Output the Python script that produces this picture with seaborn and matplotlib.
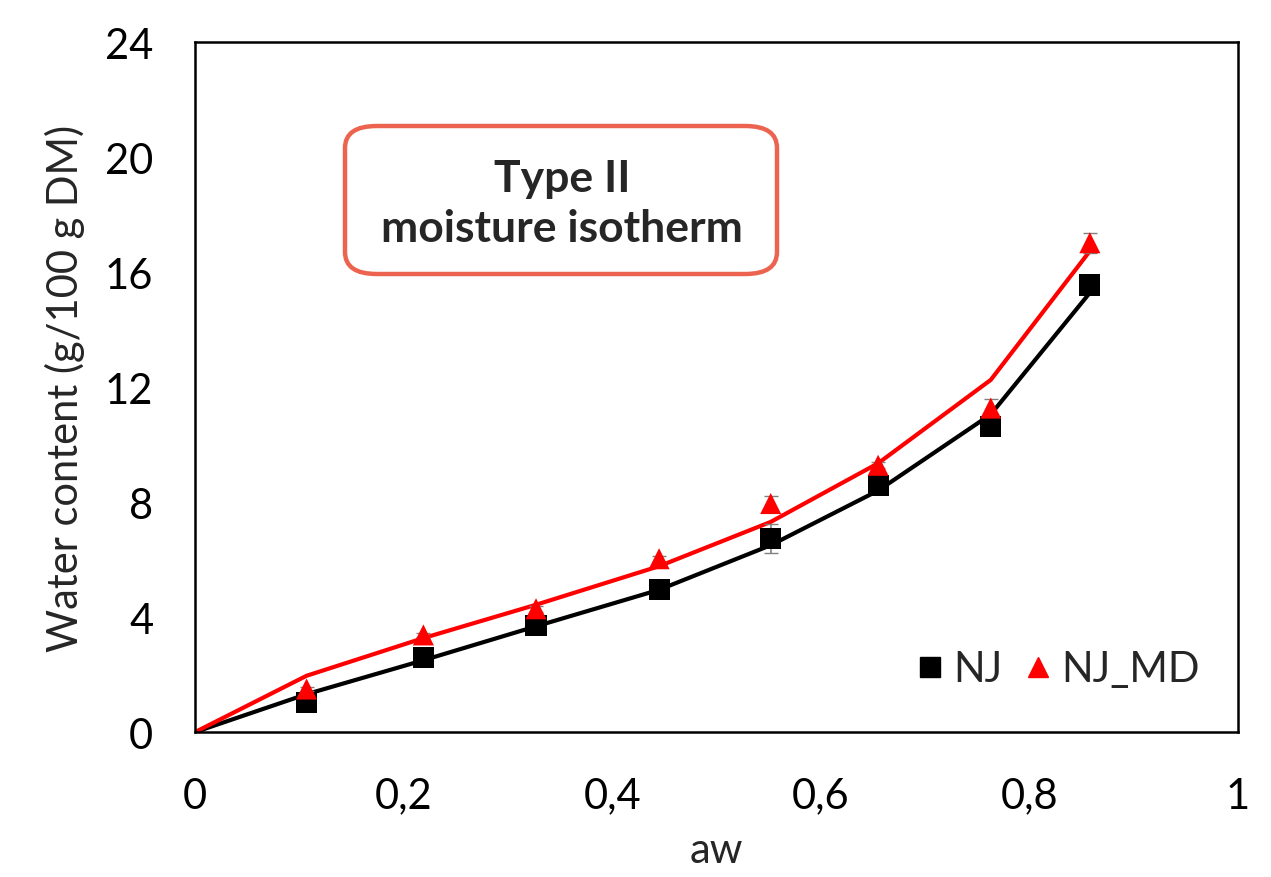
import matplotlib
matplotlib.use("Agg")
import matplotlib.pyplot as plt
from matplotlib.patches import FancyBboxPatch
from matplotlib.lines import Line2D
import seaborn as sns
import pandas as pd
import numpy as np

# Data
aw = [0.107, 0.219, 0.327, 0.445, 0.552, 0.655, 0.763, 0.858]
nj = [1.02, 2.60, 3.70, 4.95, 6.73, 8.58, 10.64, 15.55]
nj_err = [0.05, 0.08, 0.08, 0.1, 0.5, 0.1, 0.2, 0.15]
nj_md = [1.50, 3.38, 4.29, 6.03, 7.95, 9.28, 11.27, 17.02]
nj_md_err = [0.08, 0.08, 0.1, 0.1, 0.26, 0.1, 0.3, 0.35]

fit_aw = [0.0, 0.107, 0.219, 0.327, 0.445, 0.552, 0.655, 0.763, 0.858]
fit_nj = [0.0, 1.32, 2.50, 3.68, 4.95, 6.50, 8.40, 11.05, 15.28]
fit_nj_md = [0.0, 1.96, 3.27, 4.43, 5.77, 7.31, 9.35, 12.25, 16.73]

xticks = [0, 0.2, 0.4, 0.6, 0.8, 1]
xticklabels = ["0", "0,2", "0,4", "0,6", "0,8", "1"]
yticks = [0, 4, 8, 12, 16, 20, 24]

sns.set_style("white")
plt.rcParams['font.family'] = ['Lato', 'DejaVu Sans']

fig = plt.figure(figsize=(12.71, 8.78), dpi=100)
ax = fig.add_axes([0.1534, 0.165, 0.8206, 0.786])

pts = pd.DataFrame({
    "aw": aw * 2,
    "val": nj + nj_md,
    "series": ["NJ"] * len(aw) + ["NJ_MD"] * len(aw),
})
fits = pd.DataFrame({
    "aw": fit_aw * 2,
    "val": fit_nj + fit_nj_md,
    "series": ["NJ"] * len(fit_aw) + ["NJ_MD"] * len(fit_aw),
})
palette = {"NJ": "black", "NJ_MD": "#ff0000"}

sns.lineplot(data=fits, x="aw", y="val", hue="series", palette=palette,
             linewidth=3, ax=ax, legend=False, sort=False, zorder=2)

ax.errorbar(aw, nj, yerr=nj_err, fmt="none", ecolor="#808080", elinewidth=1.2,
            capsize=5, zorder=3)
ax.errorbar(aw, nj_md, yerr=nj_md_err, fmt="none", ecolor="#808080", elinewidth=1.2,
            capsize=5, zorder=3)

sns.scatterplot(data=pts, x="aw", y="val", hue="series", style="series",
                markers={"NJ": "s", "NJ_MD": "^"}, palette=palette,
                s=230, linewidth=0, ax=ax, legend=False, zorder=4)

ax.set_xlim(0, 1)
ax.set_ylim(0, 24)
ax.set_xticks(xticks)
ax.set_xticklabels(xticklabels)
ax.set_yticks(yticks)
ax.tick_params(axis="both", length=0, labelsize=30, colors="black")
ax.tick_params(axis="y", pad=30)
ax.tick_params(axis="x", pad=32)
ax.set_xlabel("aw", fontsize=30, labelpad=12)
ax.set_ylabel("Water content (g/100 g DM)", fontsize=30, labelpad=14)
for sp in ax.spines.values():
    sp.set_color("black")
    sp.set_linewidth(1.8)

# Annotation box
box = FancyBboxPatch((345 / 1271, 1 - 275 / 878), (777 - 345) / 1271, (275 - 127) / 878,
                     boxstyle="round,pad=0,rounding_size=0.025",
                     transform=fig.transFigure, facecolor="white",
                     edgecolor="#ec6450", linewidth=3.2, zorder=5)
fig.patches.append(box)
fig.text(562 / 1271, 1 - 204 / 878, "Type II\nmoisture isotherm", ha="center", va="center",
         fontsize=32, fontweight="bold", linespacing=1.3, zorder=6)

handles = [
    Line2D([], [], marker="s", color="black", linestyle="none", markersize=14),
    Line2D([], [], marker="^", color="#ff0000", linestyle="none", markersize=15),
]
ax.legend(handles, ["NJ", "NJ_MD"], ncol=2, frameon=False, fontsize=30,
          loc="lower right", bbox_to_anchor=(0.999, 0.009), handletextpad=0.05,
          columnspacing=0.35, handlelength=1.0)

fig.savefig("out.png", dpi=100)
